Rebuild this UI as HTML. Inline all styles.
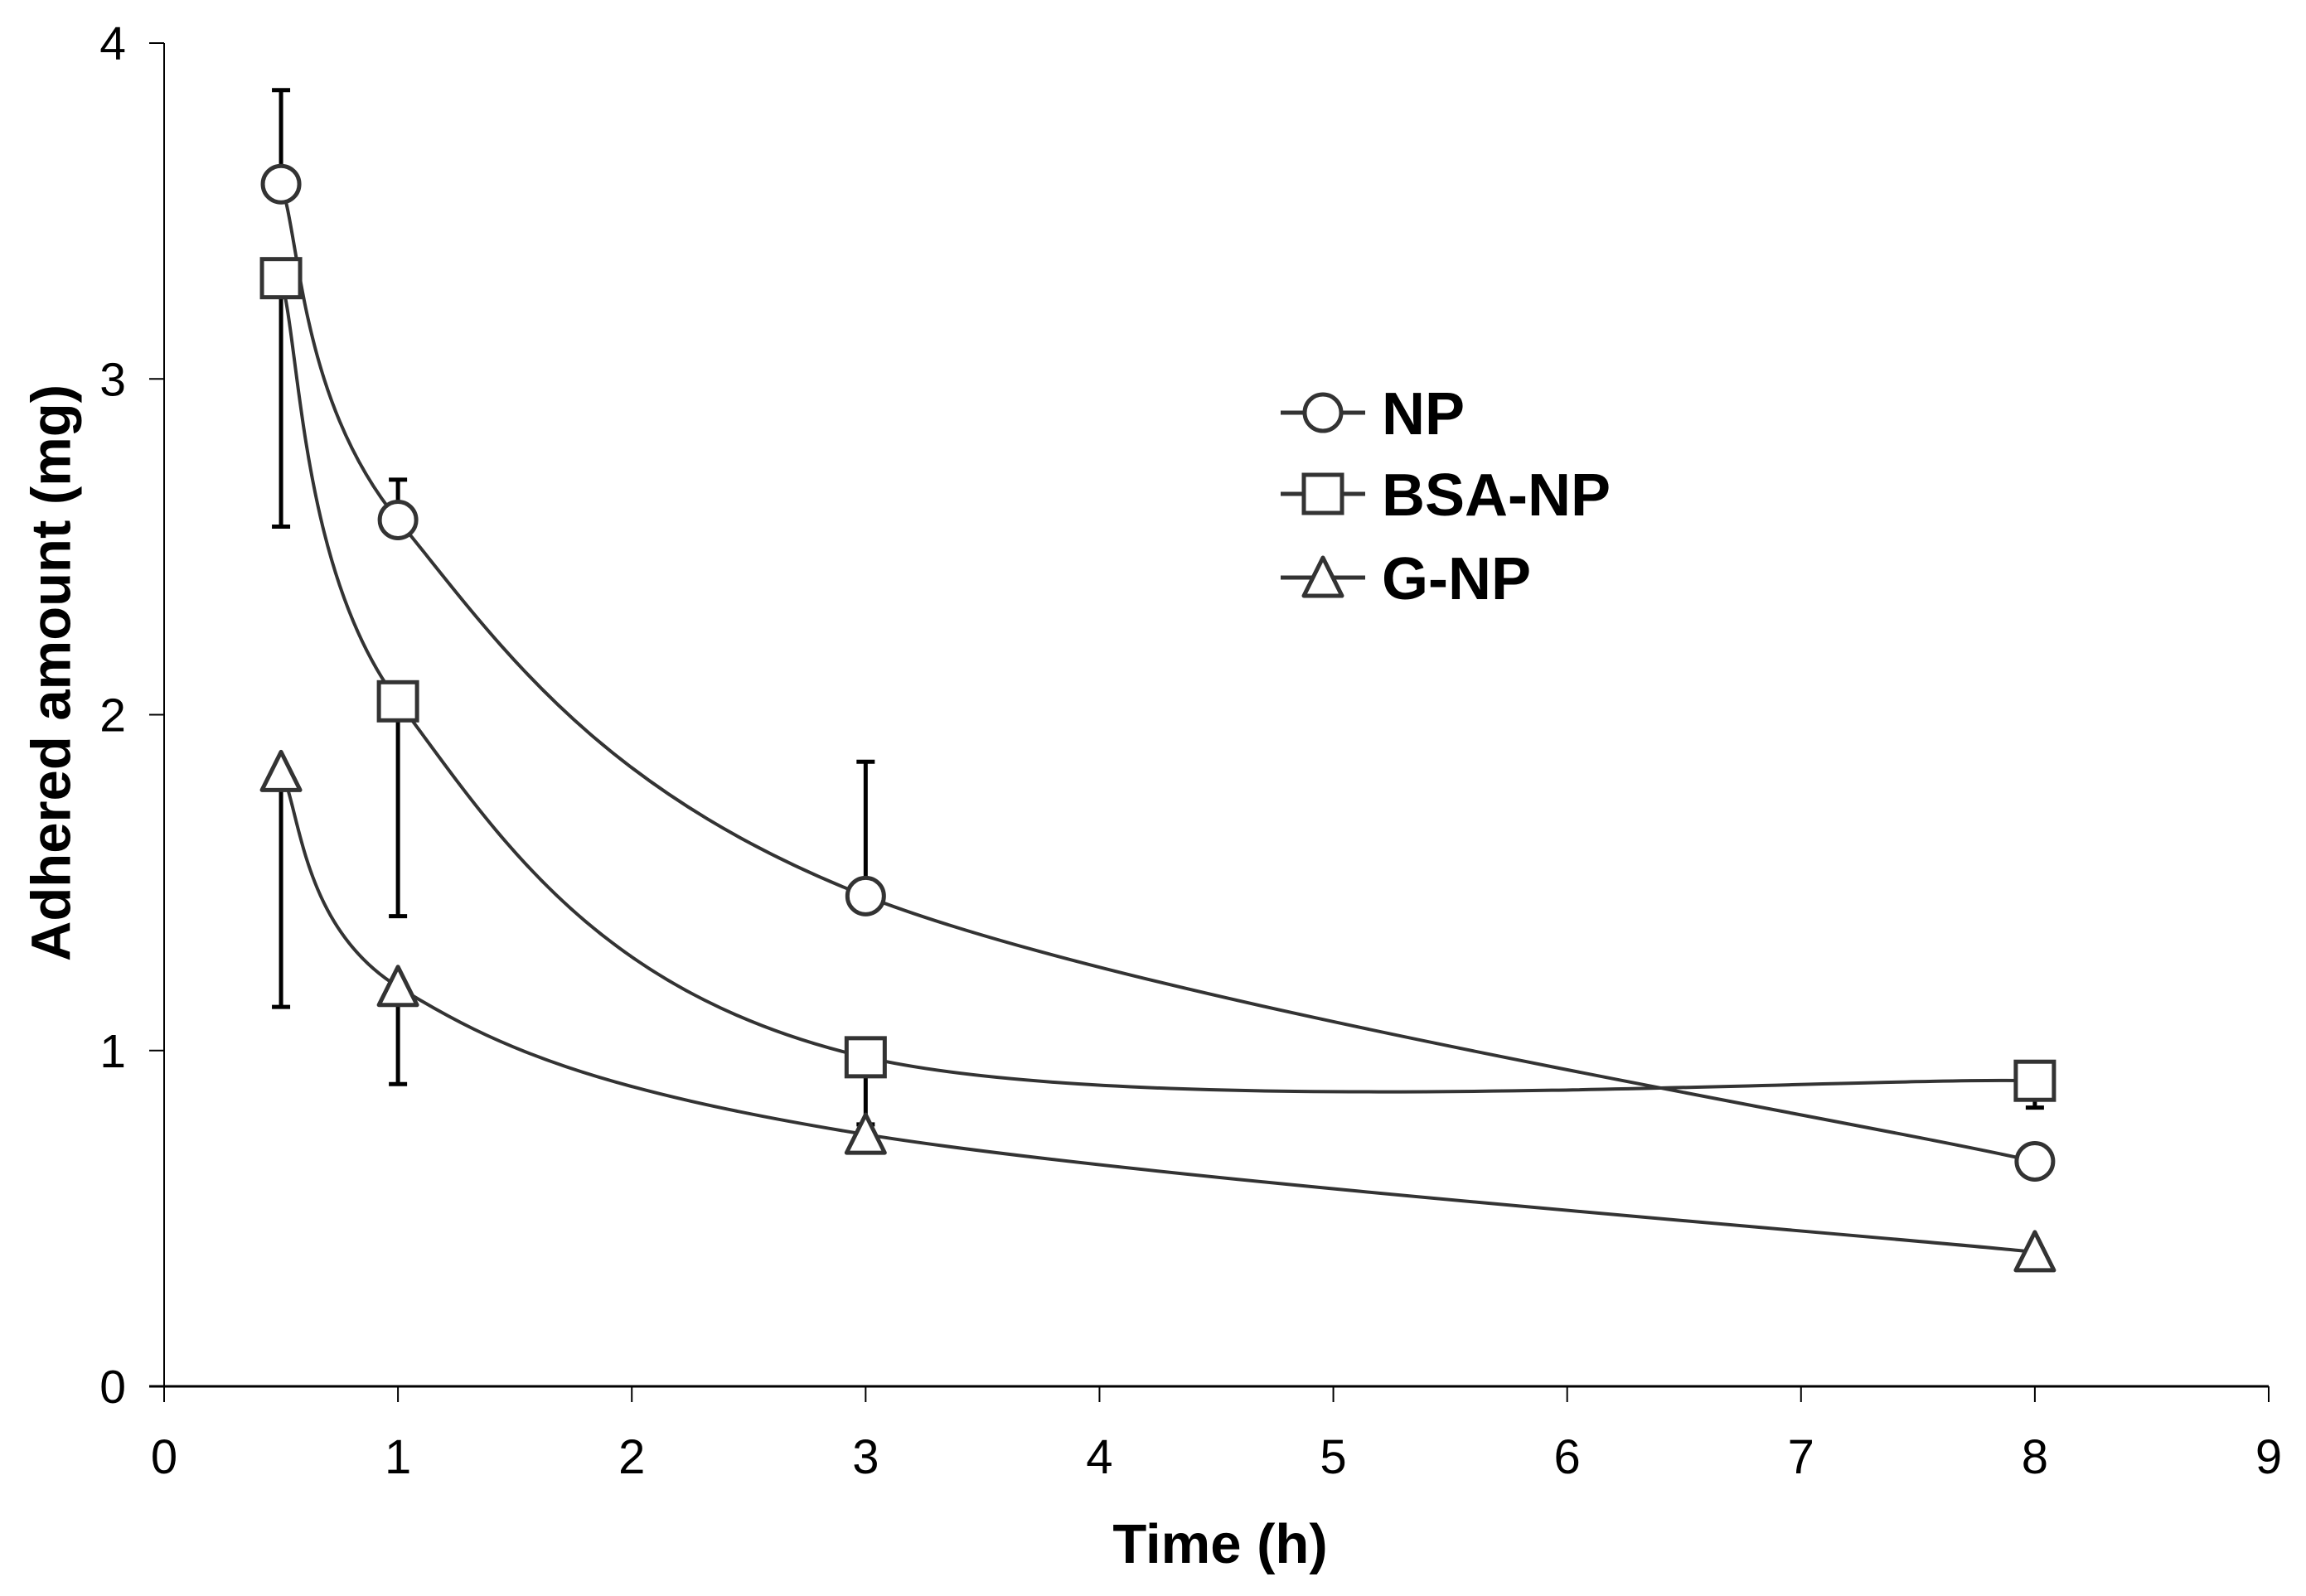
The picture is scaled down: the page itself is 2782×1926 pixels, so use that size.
<!DOCTYPE html>
<html><head><meta charset="utf-8"><style>
html,body{margin:0;padding:0;background:#fff;}
svg{display:block;font-family:"Liberation Sans",Arial,sans-serif;}
</style></head><body>
<svg id="chart" width="2782" height="1926" viewBox="0 0 2782 1926" xmlns="http://www.w3.org/2000/svg">
<rect width="2782" height="1926" fill="#fff"/>
<g id="axes"></g>
<g id="series"></g>
<g id="legend"></g>
<text x="1472" y="1886" font-size="67" font-weight="bold" text-anchor="middle">Time (h)</text>
<text transform="translate(62,812) rotate(-90)" font-size="67" font-weight="bold" text-anchor="middle" dominant-baseline="central">Adhered amount (mg)</text>
</svg>
<script>
const times = [0.5, 1, 3, 8];
const npValues = [3.58, 2.58, 1.46, 0.67];
const npErr = [0.28, 0.12, 0.40, 0];
const bsaValues = [3.30, 2.04, 0.98, 0.91];
const bsaErr = [0.74, 0.64, 0.20, 0.08];
const gValues = [1.83, 1.19, 0.75, 0.40];
const gErr = [0.70, 0.29, 0, 0];
const xTicks = [0,1,2,3,4,5,6,7,8,9];
const yTicks = [0,1,2,3,4];
const seriesNames = ["NP","BSA-NP","G-NP"];

const NS="http://www.w3.org/2000/svg";
const X0=198,X1=2737,Y0=1673,Y1=52;
const xs=v=>X0+(X1-X0)*v/9;
const ys=v=>Y0-(Y0-Y1)*v/4;
function mk(tag,attrs,parent){const e=document.createElementNS(NS,tag);for(const k in attrs)e.setAttribute(k,attrs[k]);parent.appendChild(e);return e;}
const axes=document.getElementById('axes');
let e=mk('line',{x1:X0,y1:Y1,x2:X0,y2:Y0,stroke:'#000','stroke-width':2},axes);


e=mk('line',{x1:X0-18,y1:Y0,x2:X1,y2:Y0,stroke:'#000','stroke-width':3},axes);


yTicks.forEach(t=>{
  const y=ys(t);
  let l=mk('line',{x1:X0-18,y1:y,x2:X0,y2:y,stroke:'#000','stroke-width':2},axes);
  
  
  let tx=mk('text',{x:152,y:y+20,'font-size':57,'text-anchor':'end'},axes);
  tx.textContent=t;
  
  
});
xTicks.forEach(t=>{
  const x=xs(t);
  let l=mk('line',{x1:x,y1:Y0,x2:x,y2:Y0+19,stroke:'#000','stroke-width':2},axes);
  
  
  let tx=mk('text',{x:x,y:1778,'font-size':58,'text-anchor':'middle'},axes);
  tx.textContent=t;
  
  
});
function smoothPath(pts){
  let d=`M${pts[0][0]},${pts[0][1]}`;
  const t=1/6;
  for(let i=0;i<pts.length-1;i++){
    const p0=pts[Math.max(0,i-1)],p1=pts[i],p2=pts[i+1],p3=pts[Math.min(pts.length-1,i+2)];
    const c1=[p1[0]+(p2[0]-p0[0])*t,p1[1]+(p2[1]-p0[1])*t];
    const c2=[p2[0]-(p3[0]-p1[0])*t,p2[1]-(p3[1]-p1[1])*t];
    d+=` C${c1[0]},${c1[1]} ${c2[0]},${c2[1]} ${p2[0]},${p2[1]}`;
  }
  return d;
}
function marker(kind,cx,cy,parent){
  let m;
  if(kind==='circle') m=mk('circle',{cx,cy,r:22,fill:'#fff',stroke:'#333','stroke-width':5},parent);
  else if(kind==='square') m=mk('rect',{x:cx-23,y:cy-23,width:46,height:46,fill:'#fff',stroke:'#333','stroke-width':5},parent);
  else m=mk('polygon',{points:`${cx},${cy-24} ${cx+23},${cy+22} ${cx-23},${cy+22}`,fill:'#fff',stroke:'#333','stroke-width':5,'stroke-linejoin':'round'},parent);
  return m;
}
const sg=document.getElementById('series');
const defs=[
  {name:'np',vals:npValues,err:npErr,dir:-1,kind:'circle'},
  {name:'bsa-np',vals:bsaValues,err:bsaErr,dir:1,kind:'square'},
  {name:'g-np',vals:gValues,err:gErr,dir:1,kind:'triangle'}
];
defs.forEach(s=>{
  s.vals.forEach((v,i)=>{
    if(!s.err[i])return;
    const x=xs(times[i]),y=ys(v),y2=ys(v-s.dir*s.err[i]);
    let l=mk('line',{x1:x,y1:y,x2:x,y2:y2,stroke:'#000','stroke-width':5},sg);
    
    
    let c=mk('line',{x1:x-11,y1:y2,x2:x+11,y2:y2,stroke:'#000','stroke-width':5},sg);
    
    
  });
});
defs.forEach(s=>{
  const pts=s.vals.map((v,i)=>[xs(times[i]),ys(v)]);
  let p=mk('path',{d:smoothPath(pts),fill:'none',stroke:'#333','stroke-width':4},sg);
  
  
});
defs.forEach(s=>{
  s.vals.forEach((v,i)=>{
    const m=marker(s.kind,xs(times[i]),ys(v),sg);
    
    
  });
});
const lg=document.getElementById('legend');
const rowsY=[498,596,697];
seriesNames.forEach((n,i)=>{
  const y=rowsY[i];
  let l=mk('line',{x1:1545,y1:y,x2:1647,y2:y,stroke:'#333','stroke-width':5},lg);
  
  
  const m=marker(defs[i].kind,1596,y,lg);
  
  
  let t=mk('text',{x:1667,y:y+26,'font-size':72,'font-weight':'bold'},lg);
  t.textContent=n;
  
  
});
</script>
</body></html>
